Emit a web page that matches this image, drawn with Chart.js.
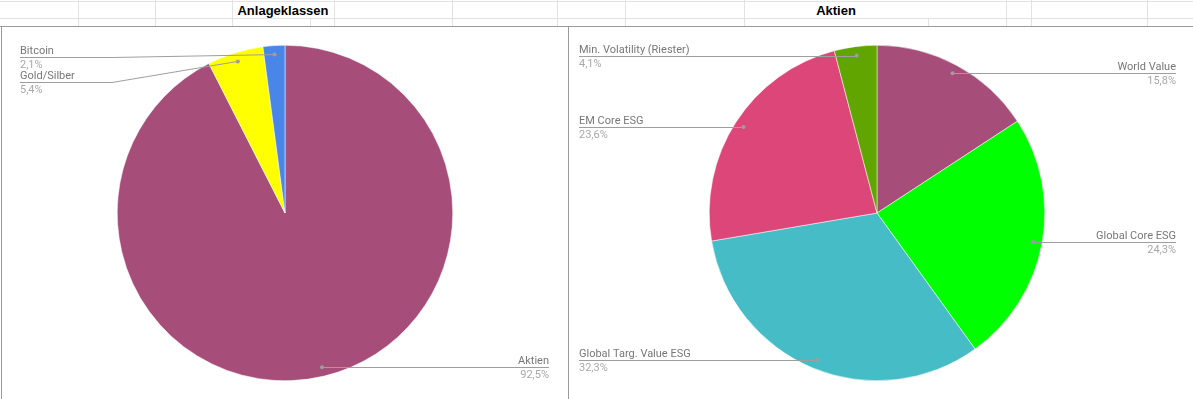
<!DOCTYPE html>
<html>
<head>
<meta charset="utf-8">
<script src="https://cdn.jsdelivr.net/npm/chart.js@4"></script>
<style>
  body { margin: 0; background: #fff; width: 1193px; height: 399px; overflow: hidden; position: relative; font-family: "Liberation Sans", Arial, sans-serif; }
  .h { position: absolute; left: 0; width: 1193px; height: 1px; background: #e2e2e2; }
  .v { position: absolute; width: 1px; background: #e2e2e2; }
  .title { position: absolute; top: 3px; font-weight: bold; font-size: 13px; color: #000; text-align: center; }
  .frame { position: absolute; background: #9a9a9a; }
  canvas { position: absolute; }
</style>
</head>
<body>
<div id="grid"></div>
<div class="title" style="left:232px;width:102px;">Anlageklassen</div>
<div class="title" style="left:744px;width:184px;">Aktien</div>
<div class="frame" style="left:0;top:26px;width:1193px;height:1px;"></div>
<div class="frame" style="left:1px;top:26px;width:1px;height:373px;"></div>
<div class="frame" style="left:568px;top:26px;width:1px;height:373px;"></div>
<canvas id="left" width="566" height="372" style="left:2px;top:27px;"></canvas>
<canvas id="right" width="616" height="372" style="left:569px;top:27px;"></canvas>
<script>
const assetLabels = ['Aktien', 'Gold/Silber', 'Bitcoin'];
const assetValues = [92.5, 5.4, 2.1];
const assetColors = ['#a64d79', '#ffff00', '#4a86e8'];

const equityLabels = ['World Value', 'Global Core ESG', 'Global Targ. Value ESG', 'EM Core ESG', 'Min. Volatility (Riester)'];
const equityValues = [15.8, 24.3, 32.3, 23.6, 4.1];
const equityColors = ['#a64d79', '#00ff00', '#46bdc6', '#dc4678', '#61a600'];

// spreadsheet grid above the charts
const grid = document.getElementById('grid');
[1, 18].forEach(y => {
  const d = document.createElement('div');
  d.className = 'h';
  d.style.top = y + 'px';
  grid.appendChild(d);
});
[[78, 0], [155, 0], [232, 0], [310, 18], [334, 0], [452, 0], [557, 0], [625, 0], [744, 0], [928, 18], [1006, 0], [1031, 0], [1147, 0]].forEach(([x, y0]) => {
  const d = document.createElement('div');
  d.className = 'v';
  d.style.left = x + 'px';
  d.style.top = y0 + 'px';
  d.style.height = (26 - y0) + 'px';
  grid.appendChild(d);
});

function fmt(v, total) {
  return (v / total * 100).toFixed(1).replace('.', ',') + '%';
}

const leaderLabels = {
  id: 'leaderLabels',
  afterDraw(chart, args, opts) {
    const ctx = chart.ctx;
    const meta = chart.getDatasetMeta(0);
    const values = chart.data.datasets[0].data;
    const total = values.reduce((a, b) => a + b, 0);
    const items = meta.data.map((arc, i) => {
      const p = arc.getProps(['x', 'y', 'startAngle', 'endAngle', 'outerRadius'], true);
      const mid = (p.startAngle + p.endAngle) / 2;
      const r = p.outerRadius - 9;
      return { i, dx: p.x + Math.cos(mid) * r, dy: p.y + Math.sin(mid) * r, left: Math.cos(mid) < 0 };
    });
    ctx.save();
    ctx.font = '11px Roboto';
    [true, false].forEach(side => {
      const list = items.filter(it => it.left === side).sort((a, b) => a.dy - b.dy);
      let prev = -1e9;
      list.forEach(it => {
        const uy = Math.round(Math.max(it.dy, prev + 24, opts.minY)) + 0.5;
        prev = uy;
        const name = chart.data.labels[it.i];
        const pct = fmt(values[it.i], total);
        const tw = ctx.measureText(name).width;
        const bendW = Math.max(tw + 16, 92);
        let x0, bx;
        if (side) { x0 = opts.left; bx = x0 + bendW; } else { x0 = opts.right; bx = x0 - bendW; }
        ctx.strokeStyle = '#9e9e9e';
        ctx.lineWidth = 1;
        ctx.beginPath();
        ctx.moveTo(x0, uy);
        if (Math.abs(uy - it.dy) > 1) {
          ctx.lineTo(bx, uy);
          ctx.lineTo(it.dx, it.dy);
        } else {
          ctx.lineTo(it.dx, uy);
        }
        ctx.stroke();
        ctx.fillStyle = '#9e9e9e';
        ctx.beginPath();
        ctx.arc(it.dx, it.dy, 2, 0, Math.PI * 2);
        ctx.fill();
        ctx.textAlign = side ? 'left' : 'right';
        ctx.textBaseline = 'alphabetic';
        ctx.fillStyle = '#777777';
        ctx.fillText(name, x0, uy - 4);
        ctx.fillStyle = '#a8a8a8';
        ctx.fillText(pct, x0, uy + 10);
      });
    });
    ctx.restore();
  }
};

function pie(id, labels, values, colors, labelOpts) {
  return new Chart(document.getElementById(id), {
    type: 'pie',
    data: {
      labels: labels,
      datasets: [{
        data: values,
        backgroundColor: colors,
        borderColor: '#ffffff',
        borderWidth: 0.5
      }]
    },
    options: {
      responsive: false,
      animation: false,
      layout: { padding: { top: 18, bottom: 18 } },
      plugins: {
        legend: { display: false },
        tooltip: { enabled: false },
        leaderLabels: labelOpts
      }
    },
    plugins: [leaderLabels]
  });
}

pie('left', assetLabels, assetValues, assetColors, { left: 18, right: 547, minY: 30 });
pie('right', equityLabels, equityValues, equityColors, { left: 10, right: 607, minY: 29 });
</script>
</body>
</html>
